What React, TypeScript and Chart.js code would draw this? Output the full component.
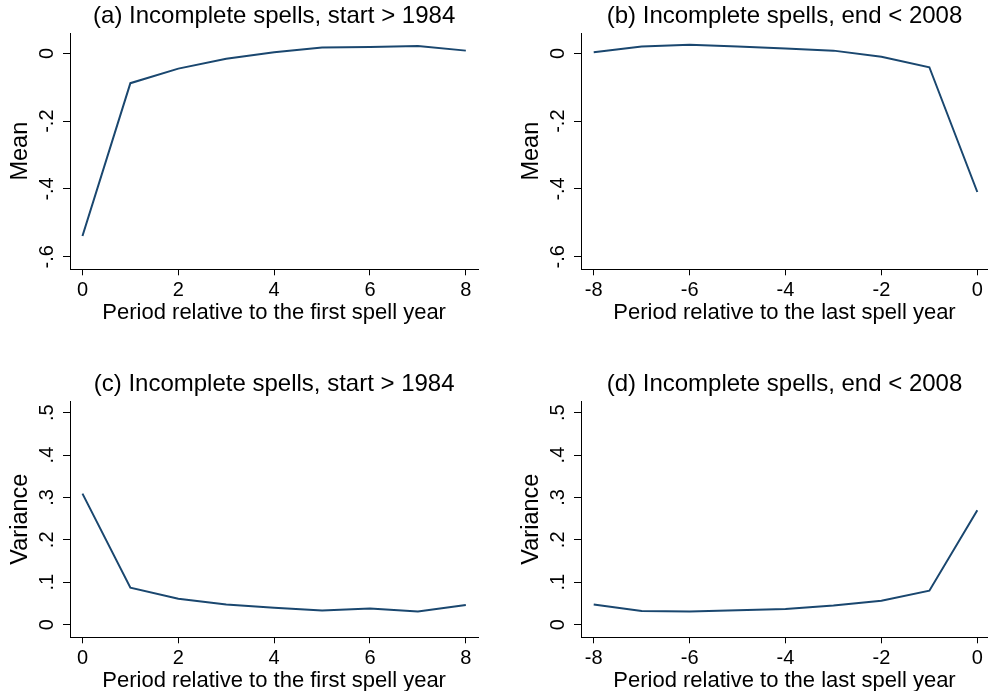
import React, { useEffect, useRef } from "react";
import { Chart, registerables } from "chart.js";

Chart.register(...registerables);

const FONT = "'Liberation Sans', Arial, Helvetica, sans-serif";
const LINE_COLOR = "#1a476f";
const INK = "#000000";

// ---- data ----
const periodsFirst = [0, 1, 2, 3, 4, 5, 6, 7, 8];
const periodsLast = [-8, -7, -6, -5, -4, -3, -2, -1, 0];

const meanFirst = [-0.539, -0.088, -0.045, -0.016, 0.003, 0.017, 0.019, 0.022, 0.008];
const meanLast = [0.003, 0.02, 0.025, 0.02, 0.014, 0.008, -0.01, -0.041, -0.409];
const varFirst = [0.309, 0.087, 0.061, 0.0475, 0.04, 0.033, 0.038, 0.031, 0.046];
const varLast = [0.0475, 0.032, 0.031, 0.034, 0.037, 0.045, 0.056, 0.08, 0.27];

const xTicksFirst = [0, 2, 4, 6, 8];
const xTickLabelsFirst = ["0", "2", "4", "6", "8"];
const xTicksLast = [-8, -6, -4, -2, 0];
const xTickLabelsLast = ["-8", "-6", "-4", "-2", "0"];

const meanTicks = [-0.6, -0.4, -0.2, 0];
const meanTickLabels = ["-.6", "-.4", "-.2", "0"];
const varTicks = [0, 0.1, 0.2, 0.3, 0.4, 0.5];
const varTickLabels = ["0", ".1", ".2", ".3", ".4", ".5"];

const panelTitles = [
  "(a) Incomplete spells, start > 1984",
  "(b) Incomplete spells, end < 2008",
  "(c) Incomplete spells, start > 1984",
  "(d) Incomplete spells, end < 2008",
];
const xTitleFirst = "Period relative to the first spell year";
const xTitleLast = "Period relative to the last spell year";
const yTitleMean = "Mean";
const yTitleVar = "Variance";

// ---- layout ----
const CANVAS_W = 494;
const CANVAS_H = 345;
const PLOT_BOTTOM = 269.3;

interface PanelCfg {
  left: number;
  top: number;
  plotLeft: number;
  padRight: number;
  xMin: number;
  xMax: number;
  yMin: number;
  yMax: number;
  xs: number[];
  ys: number[];
  xTicks: number[];
  xLabels: string[];
  yTicks: number[];
  yLabels: string[];
  title: string;
  xTitle: string;
  yTitle: string;
}

const rotatedYTicks = {
  id: "rotatedYTicks",
  afterDraw(chart: any, _args: any, opts: any) {
    const s = chart.scales.y;
    const ctx = chart.ctx;
    ctx.save();
    ctx.font = `${opts.size}px ${FONT}`;
    ctx.fillStyle = INK;
    ctx.textAlign = "center";
    ctx.textBaseline = "alphabetic";
    s.ticks.forEach((t: any) => {
      const y = s.getPixelForValue(t.value);
      ctx.save();
      ctx.translate(chart.chartArea.left - opts.offset, y);
      ctx.rotate(-Math.PI / 2);
      ctx.fillText(String(t.label), 0, 0);
      ctx.restore();
    });
    ctx.restore();
  },
};

function Panel({ cfg }: { cfg: PanelCfg }) {
  const ref = useRef<HTMLCanvasElement>(null);
  useEffect(() => {
    const chart = new Chart(ref.current as HTMLCanvasElement, {
      type: "line",
      data: {
        datasets: [
          {
            data: cfg.xs.map((x, i) => ({ x, y: cfg.ys[i] })),
            borderColor: LINE_COLOR,
            borderWidth: 2,
            pointRadius: 0,
            tension: 0,
            fill: false,
          },
        ],
      },
      options: {
        animation: false,
        responsive: false,
        devicePixelRatio: 1,
        layout: { padding: { left: 0, top: 0, right: cfg.padRight, bottom: 0 } },
        plugins: {
          legend: { display: false },
          tooltip: { enabled: false },
          title: {
            display: true,
            text: cfg.title,
            fullSize: false,
            color: INK,
            font: { family: FONT, size: 24, weight: "normal" },
            padding: { top: 1.5, bottom: 2.7 },
          },
          rotatedYTicks: { offset: 17.5, size: 20 },
        } as any,
        scales: {
          x: {
            type: "linear",
            min: cfg.xMin,
            max: cfg.xMax,
            afterBuildTicks: (s: any) => {
              s.ticks = cfg.xTicks.map((v) => ({ value: v }));
            },
            afterFit: (s: any) => {
              s.height = CANVAS_H - PLOT_BOTTOM;
            },
            ticks: {
              callback: (_v: any, i: number) => cfg.xLabels[i],
              color: INK,
              font: { family: FONT, size: 20 },
              padding: 3,
              maxRotation: 0,
              autoSkip: false,
            },
            grid: {
              drawOnChartArea: false,
              drawTicks: true,
              tickLength: 6,
              tickColor: INK,
              tickWidth: 1,
            },
            border: { display: true, color: INK, width: 1 },
            title: {
              display: true,
              text: cfg.xTitle,
              color: INK,
              font: { family: FONT, size: 22 },
              padding: { top: 0, bottom: 19.3 },
            },
          },
          y: {
            type: "linear",
            min: cfg.yMin,
            max: cfg.yMax,
            afterBuildTicks: (s: any) => {
              s.ticks = cfg.yTicks.map((v) => ({ value: v }));
            },
            afterFit: (s: any) => {
              s.width = cfg.plotLeft;
            },
            ticks: {
              callback: (_v: any, i: number) => cfg.yLabels[i],
              color: "rgba(0,0,0,0)",
              font: { family: FONT, size: 20 },
              autoSkip: false,
            },
            grid: {
              drawOnChartArea: false,
              drawTicks: true,
              tickLength: 7,
              tickColor: INK,
              tickWidth: 1,
            },
            border: { display: true, color: INK, width: 1 },
            title: {
              display: true,
              text: cfg.yTitle,
              color: INK,
              font: { family: FONT, size: 23.5 },
              padding: { top: cfg.plotLeft - 49 - 14.1, bottom: 0 },
            },
          },
        },
      } as any,
      plugins: [rotatedYTicks as any],
    });
    return () => chart.destroy();
  }, [cfg]);
  return (
    <canvas
      ref={ref}
      width={CANVAS_W}
      height={CANVAS_H}
      style={{
        position: "absolute",
        left: cfg.left,
        top: cfg.top,
        width: CANVAS_W,
        height: CANVAS_H,
      }}
    />
  );
}

const MEAN_RANGE = [-0.637, 0.06];
const VAR_RANGE = [-0.03, 0.5275];
const X_FIRST_RANGE = [-0.26, 8.26];
const X_LAST_RANGE = [-8.265, 0.223];

const panels: PanelCfg[] = [
  {
    left: 0, top: 0, plotLeft: 70, padRight: CANVAS_W - 478.3,
    xMin: X_FIRST_RANGE[0], xMax: X_FIRST_RANGE[1],
    yMin: MEAN_RANGE[0], yMax: MEAN_RANGE[1],
    xs: periodsFirst, ys: meanFirst,
    xTicks: xTicksFirst, xLabels: xTickLabelsFirst,
    yTicks: meanTicks, yLabels: meanTickLabels,
    title: panelTitles[0], xTitle: xTitleFirst, yTitle: yTitleMean,
  },
  {
    left: 494, top: 0, plotLeft: 87, padRight: 0,
    xMin: X_LAST_RANGE[0], xMax: X_LAST_RANGE[1],
    yMin: MEAN_RANGE[0], yMax: MEAN_RANGE[1],
    xs: periodsLast, ys: meanLast,
    xTicks: xTicksLast, xLabels: xTickLabelsLast,
    yTicks: meanTicks, yLabels: meanTickLabels,
    title: panelTitles[1], xTitle: xTitleLast, yTitle: yTitleMean,
  },
  {
    left: 0, top: 368, plotLeft: 70, padRight: CANVAS_W - 478.3,
    xMin: X_FIRST_RANGE[0], xMax: X_FIRST_RANGE[1],
    yMin: VAR_RANGE[0], yMax: VAR_RANGE[1],
    xs: periodsFirst, ys: varFirst,
    xTicks: xTicksFirst, xLabels: xTickLabelsFirst,
    yTicks: varTicks, yLabels: varTickLabels,
    title: panelTitles[2], xTitle: xTitleFirst, yTitle: yTitleVar,
  },
  {
    left: 494, top: 368, plotLeft: 87, padRight: 0,
    xMin: X_LAST_RANGE[0], xMax: X_LAST_RANGE[1],
    yMin: VAR_RANGE[0], yMax: VAR_RANGE[1],
    xs: periodsLast, ys: varLast,
    xTicks: xTicksLast, xLabels: xTickLabelsLast,
    yTicks: varTicks, yLabels: varTickLabels,
    title: panelTitles[3], xTitle: xTitleLast, yTitle: yTitleVar,
  },
];

export default function App() {
  return (
    <div
      style={{
        position: "absolute",
        left: 0,
        top: 0,
        width: 988,
        height: 691,
        overflow: "hidden",
        background: "#ffffff",
      }}
    >
      {panels.map((p, i) => (
        <Panel key={i} cfg={p} />
      ))}
    </div>
  );
}
